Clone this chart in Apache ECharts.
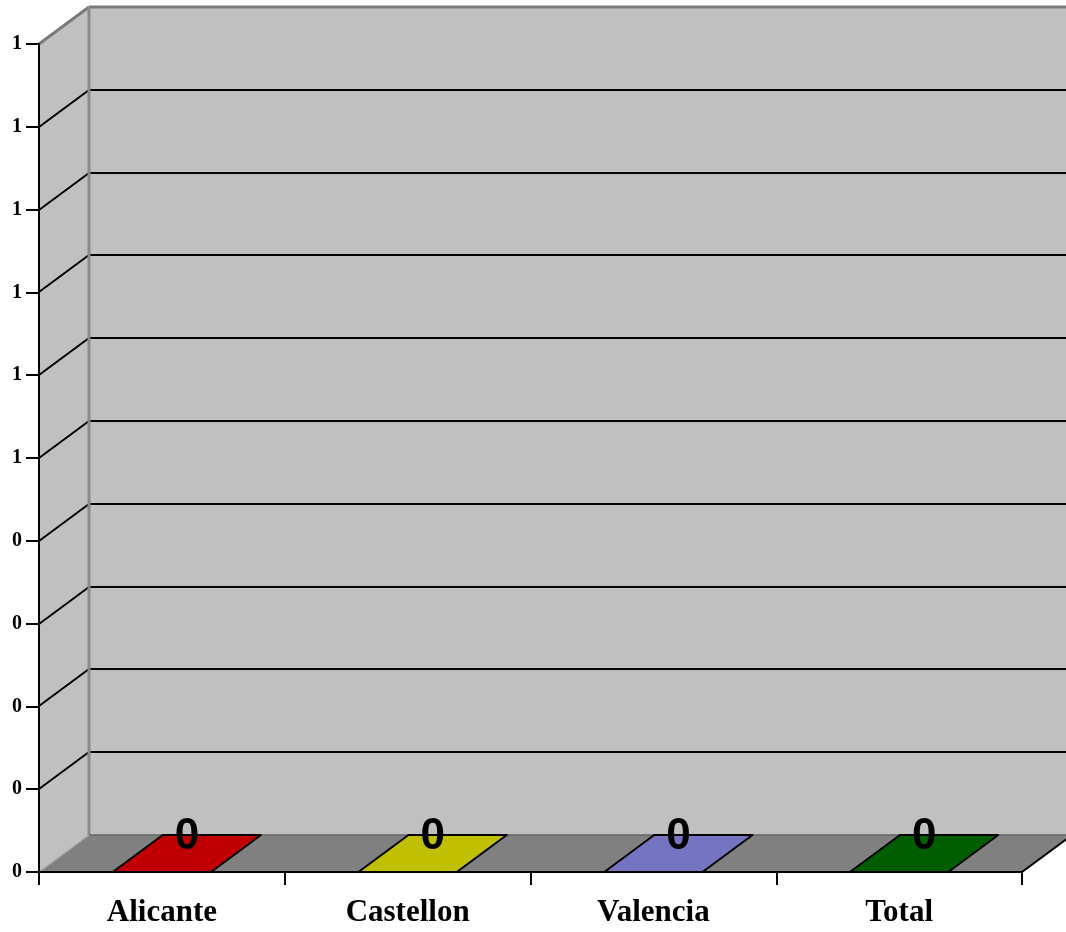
<!DOCTYPE html>
<html>
<head>
<meta charset="utf-8">
<script src="https://cdn.jsdelivr.net/npm/echarts@6/dist/echarts.min.js"></script>
<style>
html,body{margin:0;padding:0;background:#fff;}
#chart{width:1066px;height:932px;}
</style>
</head>
<body>
<div id="chart"></div>
<script>
// ---- data ----
const categories = ['Alicante', 'Castellon', 'Valencia', 'Total'];
const values = [0, 0, 0, 0];
const barColors = ['#C00000', '#C0C000', '#7474C2', '#005E00'];
const yTickValues = [0, 0.1, 0.2, 0.3, 0.4, 0.5, 0.6, 0.7, 0.8, 0.9, 1];

// ---- 3D depth offset ----
const DX = 50, DY = -37;

const chart = echarts.init(document.getElementById('chart'));

function renderWalls(params, api) {
  const cs = params.coordSys;
  const x0 = cs.x, x1 = cs.x + cs.width;
  const yt = cs.y, yb = cs.y + cs.height;
  const children = [];
  // back wall
  children.push({ type: 'rect', shape: { x: x0 + DX, y: yt + DY, width: cs.width, height: cs.height }, style: { fill: '#C0C0C0' } });
  // side wall
  children.push({ type: 'polygon', shape: { points: [[x0, yt], [x0 + DX, yt + DY], [x0 + DX, yb + DY], [x0, yb]] }, style: { fill: '#C0C0C0' } });
  // floor
  children.push({ type: 'polygon', shape: { points: [[x0, yb], [x1, yb], [x1 + DX, yb + DY], [x0 + DX, yb + DY]] }, style: { fill: '#808080' } });
  // gridlines on back wall + side-wall diagonals
  yTickValues.forEach(function (v) {
    const y = Math.round(api.coord([0, v])[1]);
    if (v > 0 && v < 1) {
      children.push({ type: 'line', shape: { x1: x0 + DX, y1: y + DY, x2: x1 + DX, y2: y + DY }, style: { stroke: '#000', lineWidth: 2 } });
      children.push({ type: 'line', shape: { x1: x0, y1: y, x2: x0 + DX, y2: y + DY }, style: { stroke: '#000', lineWidth: 2 } });
    }
  });
  // edges
  children.push({ type: 'line', shape: { x1: x0 + DX, y1: yt + DY, x2: x1 + DX, y2: yt + DY }, style: { stroke: '#7a7a7a', lineWidth: 3 } });
  children.push({ type: 'line', shape: { x1: x0, y1: yt, x2: x0 + DX, y2: yt + DY }, style: { stroke: '#7a7a7a', lineWidth: 3 } });
  children.push({ type: 'line', shape: { x1: x0 + DX, y1: yt + DY, x2: x0 + DX, y2: yb + DY }, style: { stroke: '#8a8a8a', lineWidth: 3 } });
  children.push({ type: 'line', shape: { x1: x0 + DX, y1: yb + DY, x2: x1 + DX, y2: yb + DY }, style: { stroke: '#666', lineWidth: 1.5 } });
  children.push({ type: 'line', shape: { x1: x0, y1: yb, x2: x0 + DX, y2: yb + DY }, style: { stroke: '#a8a8a8', lineWidth: 1.5 } });
  children.push({ type: 'line', shape: { x1: x1, y1: yb, x2: x1 + DX, y2: yb + DY }, style: { stroke: '#000', lineWidth: 2 } });
  return { type: 'group', children: children };
}

function renderBar(params, api) {
  const idx = api.value(0);
  const val = api.value(1);
  const base = api.coord([idx, 0]);
  const top = api.coord([idx, val]);
  const w = api.size([1, 0])[0] * 0.4;
  const cx = base[0];
  const l = cx - w / 2, r = cx + w / 2;
  const yb = base[1], yt = top[1];
  const color = barColors[params.dataIndex];
  const st = { fill: color, stroke: '#000', lineWidth: 2, lineJoin: 'round' };
  const children = [];
  if (yb - yt > 0.5) {
    children.push({ type: 'rect', shape: { x: l, y: yt, width: w, height: yb - yt }, style: st });
    children.push({ type: 'polygon', shape: { points: [[r, yt], [r + DX, yt + DY], [r + DX, yb + DY], [r, yb]] }, style: st });
  }
  children.push({ type: 'polygon', shape: { points: [[l, yt], [r, yt], [r + DX, yt + DY], [l + DX, yt + DY]] }, style: st });
  children.push({
    type: 'text',
    style: {
      text: String(val), x: cx + DX / 2, y: yt + DY + 2,
      align: 'center', verticalAlign: 'middle',
      font: 'bold 44px "Liberation Sans", Arial, sans-serif', fill: '#000'
    }
  });
  return { type: 'group', children: children };
}

chart.setOption({
  animation: false,
  backgroundColor: '#ffffff',
  grid: { left: 39, right: 44, top: 44, bottom: 60, containLabel: false },
  xAxis: {
    type: 'category',
    data: categories,
    boundaryGap: true,
    z: 2,
    axisLine: { show: true, lineStyle: { color: '#000', width: 2 } },
    axisTick: { show: true, length: 13, lineStyle: { color: '#000', width: 2 } },
    axisLabel: { margin: 25, color: '#000', fontFamily: '"Liberation Serif", "Times New Roman", serif', fontWeight: 'bold', fontSize: 31 },
    splitLine: { show: false }
  },
  yAxis: {
    type: 'value',
    min: 0, max: 1, interval: 0.1,
    z: 2,
    axisLine: { show: true, lineStyle: { color: '#000', width: 2 } },
    axisTick: { show: true, length: 13, lineStyle: { color: '#000', width: 2 } },
    axisLabel: {
      margin: 17, color: '#000',
      fontFamily: '"Liberation Serif", "Times New Roman", serif', fontWeight: 'bold', fontSize: 20,
      formatter: function (v) { return String(Math.round(v)); }
    },
    splitLine: { show: false }
  },
  series: [
    { type: 'custom', z: 1, silent: true, renderItem: renderWalls, data: [[0, 0]] },
    { type: 'custom', z: 3, renderItem: renderBar, data: values.map(function (v, i) { return [i, v]; }) }
  ]
});
</script>
</body>
</html>
